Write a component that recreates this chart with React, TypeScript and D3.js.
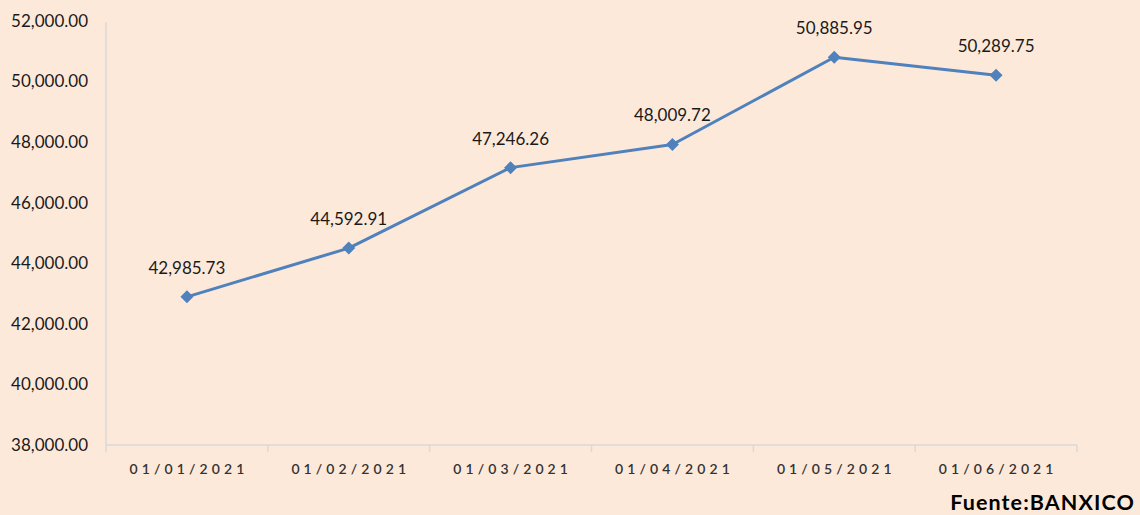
import React from "react";
import * as d3 from "d3";

const categories = ["01/01/2021", "01/02/2021", "01/03/2021", "01/04/2021", "01/05/2021", "01/06/2021"];
const values = [42985.73, 44592.91, 47246.26, 48009.72, 50885.95, 50289.75];
const yTicks = [38000, 40000, 42000, 44000, 46000, 48000, 50000, 52000];
const sourceText = "Fuente:BANXICO";

const W = 1140;
const H = 515;
const margin = { left: 106, right: 63, top: 20.5, bottom: 70 };

export default function App() {
  const x = d3
    .scaleBand<string>()
    .domain(categories)
    .range([margin.left, W - margin.right])
    .padding(0);
  const y = d3.scaleLinear().domain([38000, 52000]).range([H - margin.bottom, margin.top]);
  const fmt = d3.format(",.2f");
  const cx = (c: string) => (x(c) ?? 0) + x.bandwidth() / 2;

  const line = d3
    .line<number>()
    .x((_, i) => cx(categories[i]))
    .y((d) => y(d));

  const xTickPositions = [...categories.map((c) => x(c) ?? 0), W - margin.right];
  const axisColor = "#D9D9D9";
  const lineColor = "#4F81BD";
  const font = "Lato, 'Open Sans', sans-serif";
  const seriesShift = 3;
  const xls = 4.1;

  return (
    <svg
      width={W}
      height={H}
      style={{ position: "absolute", left: 0, top: 0, display: "block" }}
    >
      <rect x={0} y={0} width={W} height={H} fill="#FDE9DA" />
      {/* y axis */}
      <line x1={margin.left} x2={margin.left} y1={y(52000) + 1.5} y2={y(38000)} stroke={axisColor} strokeWidth={1.5} />
      {yTicks.map((t) => (
        <text
          key={t}
          x={88}
          y={y(t)}
          dy="0.36em"
          textAnchor="end"
          fontFamily={font}
          fontSize={17}
          fill="#1a1a1a"
        >
          {fmt(t)}
        </text>
      ))}
      {/* x axis */}
      <line x1={margin.left} x2={W - margin.right} y1={y(38000)} y2={y(38000)} stroke={axisColor} strokeWidth={1.5} />
      {xTickPositions.map((p, i) => (
        <line key={i} x1={p} x2={p} y1={y(38000)} y2={y(38000) + 7} stroke={axisColor} strokeWidth={1.5} />
      ))}
      {categories.map((c) => (
        <text
          key={c}
          x={cx(c) + xls / 2}
          y={y(38000) + 29}
          textAnchor="middle"
          fontFamily={font}
          fontSize={14}
          fontWeight={600}
          letterSpacing={xls}
          fill="#333333"
        >
          {c}
        </text>
      ))}
      {/* line */}
      <g transform={`translate(0,${seriesShift})`}>
        <path d={line(values) ?? ""} fill="none" stroke={lineColor} strokeWidth={3} strokeLinejoin="round" />
        {values.map((v, i) => {
          const px = cx(categories[i]);
          const py = y(v);
          const s = 6.5;
          return (
            <path
              key={i}
              d={`M${px},${py - s}L${px + s},${py}L${px},${py + s}L${px - s},${py}Z`}
              fill={lineColor}
            />
          );
        })}
        {values.map((v, i) => (
          <text
            key={"l" + i}
            x={cx(categories[i])}
            y={y(v) - 23}
            textAnchor="middle"
            fontFamily={font}
            fontSize={17}
            fill="#1a1a1a"
          >
            {fmt(v)}
          </text>
        ))}
      </g>
      <text
        x={1135}
        y={510}
        textAnchor="end"
        fontFamily={font}
        fontSize={21.5}
        fontWeight="bold"
        letterSpacing={1.1}
        fill="#000"
      >
        {sourceText}
      </text>
    </svg>
  );
}
